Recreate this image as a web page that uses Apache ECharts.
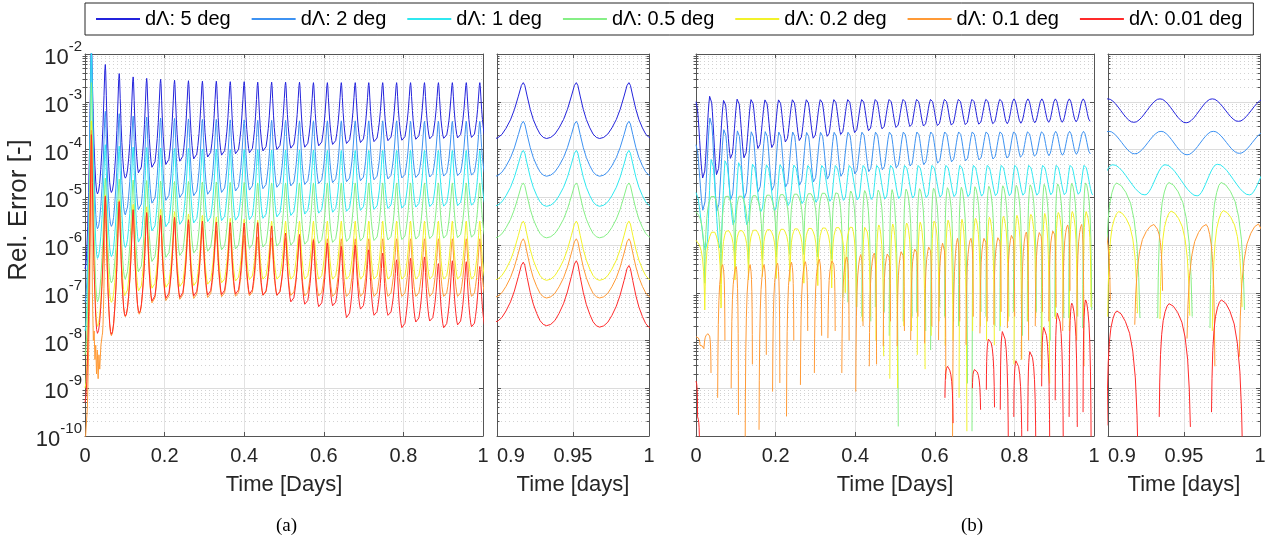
<!DOCTYPE html>
<html>
<head>
<meta charset="UTF-8">
<title>Rel. Error</title>
<script src="https://cdn.jsdelivr.net/npm/echarts@6/dist/echarts.min.js"></script>
</head>
<body style="margin:0;background:#fff;">
<div id="main" style="width:1273px;height:546px;"></div>
<script type="text/javascript">
var names = ['dΛ: 5 deg', 'dΛ: 2 deg', 'dΛ: 1 deg', 'dΛ: 0.5 deg', 'dΛ: 0.2 deg', 'dΛ: 0.1 deg', 'dΛ: 0.01 deg'];
var colors = ['#2323dc', '#3d92f2', '#2fe8f0', '#86ef86', '#f2f22a', '#ff9a36', '#ff2a2a'];

// every level below is log10 of the relative error

// ---- (a) whole day: spike times, spike tops and the trough after each spike
var tPeakA = [0.016,0.051,0.086,0.121,0.155,0.190,0.225,0.260,0.295,0.330,0.365,0.400,0.434,0.469,0.504,0.539,0.574,0.609,0.644,0.679,0.713,0.748,0.783,0.818,0.853,0.888,0.923,0.958,0.992];
var fallA = 0.0153;
var startA = [-6.5, -7.2, -7.8, -8.3, -9.0, -10.2, -9.3];
var peakA_5 = [-1.8,-2.22,-2.41,-2.48,-2.51,-2.53,-2.55,-2.56,-2.57,-2.57,-2.58,-2.58,-2.59,-2.59,-2.59,-2.59,-2.6,-2.6,-2.6,-2.6,-2.6,-2.6,-2.6,-2.6,-2.6,-2.6,-2.6,-2.6,-2.6];
var troughA_5 = [-4.93,-4.9,-4.6,-4.53,-4.41,-4.35,-4.28,-4.23,-4.19,-4.15,-4.12,-4.1,-4.06,-4.03,-4.0,-3.98,-3.95,-3.92,-3.9,-3.88,-3.86,-3.84,-3.83,-3.81,-3.8,-3.79,-3.78,-3.77,-3.77];
var peakA_2 = [-1.9,-3.2,-3.25,-3.3,-3.32,-3.34,-3.35,-3.36,-3.37,-3.37,-3.38,-3.38,-3.39,-3.39,-3.39,-3.4,-3.4,-3.4,-3.4,-3.4,-3.4,-3.4,-3.4,-3.41,-3.41,-3.41,-3.41,-3.41,-3.41];
var troughA_2 = [-5.66,-5.61,-5.37,-5.3,-5.16,-5.1,-5.04,-5.0,-4.97,-4.93,-4.9,-4.88,-4.85,-4.82,-4.79,-4.76,-4.74,-4.72,-4.7,-4.68,-4.66,-4.64,-4.62,-4.61,-4.6,-4.58,-4.57,-4.56,-4.56];
var peakA_1 = [-1.95,-3.9,-3.93,-3.95,-3.96,-3.97,-3.98,-3.98,-3.99,-3.99,-4.0,-4.0,-4.0,-4.01,-4.01,-4.01,-4.01,-4.02,-4.02,-4.02,-4.02,-4.02,-4.02,-4.02,-4.02,-4.02,-4.02,-4.02,-4.02];
var troughA_1 = [-6.28,-6.24,-6.05,-5.98,-5.74,-5.65,-5.6,-5.57,-5.54,-5.52,-5.51,-5.5,-5.47,-5.44,-5.41,-5.38,-5.36,-5.34,-5.32,-5.3,-5.28,-5.26,-5.25,-5.23,-5.22,-5.21,-5.2,-5.19,-5.19];
var peakA_05 = [-2.6,-4.6,-4.62,-4.64,-4.65,-4.66,-4.67,-4.67,-4.68,-4.68,-4.69,-4.69,-4.7,-4.7,-4.7,-4.7,-4.7,-4.7,-4.7,-4.7,-4.7,-4.7,-4.7,-4.7,-4.7,-4.7,-4.7,-4.7,-4.7];
var troughA_05 = [-7.19,-6.79,-6.72,-6.6,-6.38,-6.29,-6.25,-6.2,-6.16,-6.13,-6.11,-6.1,-6.07,-6.05,-6.03,-6.01,-5.99,-5.97,-5.95,-5.94,-5.93,-5.92,-5.91,-5.9,-5.89,-5.88,-5.87,-5.86,-5.86];
var peakA_02 = [-3.4,-4.95,-5.05,-5.15,-5.2,-5.25,-5.3,-5.35,-5.38,-5.41,-5.44,-5.46,-5.48,-5.5,-5.5,-5.5,-5.5,-5.5,-5.5,-5.5,-5.5,-5.5,-5.5,-5.5,-5.5,-5.5,-5.5,-5.5,-5.5];
var troughA_02 = [-7.7,-7.2,-7.1,-7.0,-6.94,-6.92,-6.9,-6.88,-6.85,-6.82,-6.78,-6.75,-6.74,-6.74,-6.74,-6.74,-6.74,-6.74,-6.74,-6.74,-6.74,-6.74,-6.74,-6.74,-6.74,-6.74,-6.74,-6.74,-6.74];
var peakA_01 = [-3.6,-5.0,-5.1,-5.27,-5.35,-5.42,-5.5,-5.57,-5.63,-5.7,-5.75,-5.8,-5.83,-5.85,-5.86,-5.87,-5.87,-5.87,-5.87,-5.87,-5.87,-5.87,-5.87,-5.87,-5.87,-5.87,-5.87,-5.87,-5.87];
var troughA_01 = [-8.4,-7.9,-7.5,-7.45,-7.25,-7.2,-7.17,-7.15,-7.13,-7.11,-7.1,-7.09,-7.08,-7.08,-7.08,-7.09,-7.09,-7.1,-7.1,-7.1,-7.1,-7.1,-7.1,-7.1,-7.1,-7.1,-7.1,-7.1,-7.1];
var peakA_001 = [-3.69,-4.98,-5.09,-5.26,-5.32,-5.38,-5.42,-5.47,-5.5,-5.52,-5.53,-5.54,-5.53,-5.6,-5.75,-5.78,-5.9,-5.96,-6.03,-6.0,-6.1,-6.17,-6.31,-6.28,-6.25,-6.39,-6.33,-6.35,-6.45];
var troughA_001 = [-7.85,-7.87,-7.49,-7.42,-7.21,-7.15,-7.13,-7.1,-7.08,-7.07,-7.06,-7.06,-7.08,-7.08,-7.22,-7.27,-7.32,-7.3,-7.55,-7.37,-7.5,-7.5,-7.76,-7.64,-7.62,-7.76,-7.7,-7.74,-7.76];
// noisy start of the 0.1 deg run
var headA_01 = [[0,-10.2],[0.006,-9.4],[0.011,-7.5],[0.016,-3.6],[0.0185,-7.0],[0.021,-8.0],[0.023,-7.8],[0.025,-8.4],[0.027,-8.1],[0.029,-8.7],[0.031,-8.2],[0.033,-8.8],[0.035,-8.3],[0.037,-8.6],[0.04,-8.1],[0.043,-7.9]];

// ---- (a) last 0.1 day
var zPeakA = [0.9173, 0.9522, 0.9868];
var zRiseA = 0.0196;
var zPeakA_5 = [-2.6,-2.6,-2.6], zTroughA_5 = [-3.78,-3.77,-3.77,-3.77];
var zPeakA_2 = [-3.41,-3.41,-3.41], zTroughA_2 = [-4.57,-4.56,-4.56,-4.56];
var zPeakA_1 = [-4.02,-4.02,-4.02], zTroughA_1 = [-5.19,-5.19,-5.19,-5.19];
var zPeakA_05 = [-4.7,-4.7,-4.7], zTroughA_05 = [-5.86,-5.85,-5.85,-5.85];
var zPeakA_02 = [-5.5,-5.5,-5.5], zTroughA_02 = [-6.74,-6.74,-6.74,-6.74];
var zPeakA_01 = [-5.87,-5.87,-5.87], zTroughA_01 = [-7.1,-7.11,-7.11,-7.1];
var zPeakA_001 = [-6.36,-6.33,-6.43], zTroughA_001 = [-7.62,-7.69,-7.72,-7.75];

// ---- (b) whole day: cycle times (tops of the 5 deg run)
var tPeakB = [0.036,0.071,0.105,0.140,0.175,0.209,0.244,0.279,0.314,0.348,0.383,0.418,0.452,0.487,0.522,0.556,0.591,0.626,0.661,0.695,0.730,0.765,0.799,0.834,0.869,0.903,0.938,0.973];
// smooth runs: [top offset, trough offset] from the cycle time
var offB_5 = [0, 0.0172], offB_2 = [0.0007, 0.0178], offB_1 = [0.0033, 0.0245];
var headB_5 = [[0,-3.0],[0.0185,-4.63]];
var peakB_5 = [-2.85,-2.94,-2.92,-2.93,-2.94,-2.94,-2.94,-2.94,-2.94,-2.94,-2.94,-2.94,-2.94,-2.94,-2.94,-2.94,-2.94,-2.94,-2.94,-2.94,-2.94,-2.94,-2.94,-2.94,-2.94,-2.94,-2.94,-2.94];
var troughB_5 = [-4.56,-4.21,-4.2,-4.0,-3.98,-3.86,-3.83,-3.78,-3.74,-3.7,-3.66,-3.62,-3.58,-3.55,-3.53,-3.52,-3.51,-3.5,-3.49,-3.48,-3.47,-3.46,-3.45,-3.44,-3.43,-3.43,-3.42,-3.41];
var headB_2 = [[0,-3.9],[0.019,-5.3]];
var peakB_2 = [-3.3,-3.55,-3.58,-3.6,-3.6,-3.61,-3.61,-3.62,-3.62,-3.62,-3.62,-3.62,-3.62,-3.62,-3.62,-3.62,-3.62,-3.62,-3.62,-3.62,-3.62,-3.62,-3.62,-3.62,-3.62,-3.62,-3.62,-3.62];
var troughB_2 = [-5.33,-5.08,-5.05,-4.91,-4.88,-4.81,-4.77,-4.7,-4.64,-4.58,-4.53,-4.48,-4.44,-4.4,-4.36,-4.33,-4.3,-4.27,-4.25,-4.23,-4.21,-4.19,-4.17,-4.15,-4.13,-4.12,-4.1,-4.09];
var headB_1 = [[0,-4.9],[0.026,-6.13]];
var peakB_1 = [-4.17,-4.2,-4.25,-4.28,-4.3,-4.3,-4.31,-4.32,-4.32,-4.32,-4.32,-4.32,-4.32,-4.32,-4.32,-4.32,-4.32,-4.32,-4.32,-4.32,-4.32,-4.32,-4.32,-4.32,-4.32,-4.32,-4.32,-4.32];
var troughB_1 = [-6.1,-5.61,-5.6,-5.33,-5.3,-5.19,-5.15,-5.12,-5.1,-5.08,-5.07,-5.06,-5.05,-5.04,-5.03,-5.02,-5.01,-5.0,-5.0,-4.99,-4.98,-4.98,-4.97,-4.97,-4.96,-4.96,-4.95,-4.95];
// runs that cross zero: [arc start, arc top, arc end, trough] offsets from the cycle time
var offB_05 = [-0.0015, 0.0058, 0.0212, 0.027];
var offB_02 = [0, 0.0073, 0.0196, 0.027];
var offB_01 = [-0.0166, -0.004, 0.0017, 0.0099];
var offB_001 = [-0.0005, 0.006, 0.02, 0.027];
var headB_05 = [[0,-5.3],[0.022,-6.8]], joinB_05 = 10;
var topB_05 = [-4.95,-4.95,-4.95,-4.94,-4.93,-4.92,-4.91,-4.9,-4.89,-4.88,-4.87,-4.86,-4.85,-4.84,-4.83,-4.82,-4.81,-4.8,-4.79,-4.78,-4.77,-4.76,-4.75,-4.74,-4.73,-4.72,-4.71,-4.7];
var endB_05 = [-6.7,-6.45,-6.4,-6.3,-6.25,-6.2,-6.2,-6.25,-6.3,-7.1,-7.3,-7.6,-7.4,-9.8,-7.5,-7.8,-7.3,-7.6,-8.9,-7.4,-7.7,-7.5,-7.9,-7.4,-8.0,-7.53,-7.5,-7.36];
var startB_05 = [null,null,null,null,null,null,null,null,null,null,-7.2,-7.5,-7.3,-7.9,-7.6,-7.4,-8.2,-7.5,-7.7,-9.9,-7.5,-7.8,-7.4,-7.6,-8.4,-7.5,-7.53,-7.74];
var headB_02 = [[0,-5.9],[0.022,-7.36]], joinB_02 = 11;
var topB_02 = [-5.7,-5.68,-5.68,-5.67,-5.66,-5.65,-5.64,-5.63,-5.62,-5.61,-5.6,-5.59,-5.58,-5.56,-5.54,-5.52,-5.5,-5.48,-5.46,-5.44,-5.42,-5.4,-5.38,-5.36,-5.34,-5.32,-5.3,-5.3];
var endB_02 = [-7.32,-6.73,-6.73,-6.66,-6.7,-6.76,-6.8,-6.85,-6.9,-7.0,-7.3,-7.5,-8.33,-9.0,-7.8,-8.6,-7.6,-8.0,-9.9,-7.7,-8.1,-7.6,-8.4,-7.5,-8.9,-7.43,-7.48,-7.3];
var startB_02 = [null,null,null,null,null,null,null,null,null,null,null,-7.6,-8.0,-8.8,-7.7,-8.3,-7.9,-8.1,-9.2,-7.8,-8.0,-7.7,-8.5,-7.6,-8.6,-7.55,-7.8,-7.5];
var headB_01 = [[0,-7.92],[0.01,-8.1],[0.02,-8.2]], joinB_01 = 1;
var topB_01 = [-7.85,-6.41,-6.45,-6.41,-6.41,-6.38,-6.36,-6.35,-6.3,-6.3,-6.25,-6.2,-6.17,-6.15,-6.1,-6.05,-6.0,-5.92,-5.86,-5.86,-5.82,-5.81,-5.76,-5.73,-5.7,-5.67,-5.58,-5.57];
var endB_01 = [-8.68,-8.0,-9.56,-8.5,-8.3,-8.89,-8.0,-7.8,-7.9,-7.8,-8.0,-7.7,-8.5,-7.6,-7.8,-7.5,-7.7,-8.8,-7.6,-7.5,-7.6,-7.4,-7.5,-8.0,-7.4,-7.3,-6.96,-8.54];
var startB_01 = [null,-9.2,-9.0,-10.5,-9.87,-9.07,-9.59,-8.93,-8.68,-7.95,-8.68,-9.07,-8.54,-8.12,-8.12,-7.99,-8.06,-7.99,-10.5,-8.09,-7.85,-7.67,-7.74,-8.4,-7.7,-7.6,-7.8,-8.0];
var headB_001 = [[0,-8.85],[0.004,-9.6],[0.009,-10.4]], joinB_001 = 0;
var topB_001 = [null,null,null,null,null,null,null,null,null,null,null,null,null,null,null,null,null,-8.54,null,-8.6,-7.95,-7.78,-8.4,-8.2,-7.7,-7.39,-7.22,-7.15];
var endB_001 = [null,null,null,null,null,null,null,null,null,null,null,null,null,null,null,null,null,-9.73,null,-9.45,-9.4,-10.5,-10.5,-10.5,-10.5,-10.5,-9.81,-10.5];
var startB_001 = [null,null,null,null,null,null,null,null,null,null,null,null,null,null,null,null,null,-9.2,null,-9.0,-9.03,-9.45,-9.6,-9.9,-8.96,-9.25,-9.6,-9.5];

// ---- (b) last 0.1 day
var zPeakB = [0.8998, 0.9342, 0.9686, 1.003];
var zHeadB_5 = [[0.8826,-3.43]], zPeakB_5 = [-2.94,-2.94,-2.94,-2.94], zTroughB_5 = [-3.43,-3.44,-3.41,-3.42];
var zHeadB_2 = [[0.8832,-4.09]], zPeakB_2 = [-3.62,-3.62,-3.62,-3.62], zTroughB_2 = [-4.09,-4.11,-4.08,-4.09];
var zHeadB_1 = [[0.8899,-4.95]], zPeakB_1 = [-4.32,-4.32,-4.31,-4.32], zTroughB_1 = [-4.95,-4.97,-4.95,-4.96];
var zTopB_05 = [-4.7,-4.69,-4.69,-4.7], zStartB_05 = [-7.5,-7.53,-7.74,-7.6], zEndB_05 = [-7.53,-7.5,-7.36,-7.5];
var zTopB_02 = [-5.3,-5.29,-5.28,-5.3], zStartB_02 = [-7.5,-7.55,-7.8,-7.5], zEndB_02 = [-7.43,-7.48,-7.3,-7.4];
var zTopB_01 = [-5.6,-5.57,-5.57,-5.56], zStartB_01 = [-7.6,-7.67,-7.96,-8.34], zEndB_01 = [-7.15,-6.96,-8.54,-7.5];
var zTopB_001 = [-7.38,-7.23,-7.15,null], zStartB_001 = [-9.78,-9.6,-9.5,null], zEndB_001 = [-10.5,-9.81,-10.5,null];

// cycle profiles: share of time vs share of level change
var spikeT = [0, 0.065, 0.165, 0.3, 0.43, 0.58, 0.72, 0.86, 1];
var spikeL = [0, 0.05, 0.24, 0.48, 0.66, 0.81, 0.92, 0.98, 1];
var waveT = [0, 0.1, 0.2, 0.3, 0.4, 0.5, 0.6, 0.7, 0.8, 0.9, 1];
var waveL = [0, 0.02, 0.1, 0.21, 0.35, 0.5, 0.65, 0.79, 0.9, 0.98, 1];
var arcT = [0, 0.05, 0.13, 0.25, 0.4, 0.6, 0.8, 1];
var arcL = [0, 0.3, 0.55, 0.73, 0.85, 0.93, 0.98, 1];

var profiles = {
    w: [waveT, waveL, false],
    p: [spikeT, spikeL, false],   // spike top down to trough
    P: [spikeT, spikeL, true],    // trough up to spike top
    a: [arcT, arcL, false],       // zero crossing up to arc top
    A: [arcT, arcL, true]         // arc top down to zero crossing
};

function toPoints(knots) {
    var out = [], prev = null;
    knots.forEach(function (k) {
        var t = k[0], v = k[1], c = k[2];
        if (prev && c === 'g') out.push([(prev[0] + t) / 2, null]);
        var pr = prev && c !== 'g' ? profiles[c] : null;
        if (pr) {
            var T = pr[0], L = pr[1], n = T.length;
            for (var i = 1; i < n; i++) {
                var s = pr[2] ? 1 - T[n - 1 - i] : T[i];
                var f = pr[2] ? 1 - L[n - 1 - i] : L[i];
                out.push([prev[0] + (t - prev[0]) * s, Math.pow(10, prev[1] + (v - prev[1]) * f)]);
            }
        } else {
            out.push([t, Math.pow(10, v)]);
        }
        prev = k;
    });
    return out;
}

function spikeKnots(head, tp, fall, peaks, troughs, from) {
    var kn = head.map(function (h) { return [h[0], h[1], 'l']; });
    for (var k = from; k < tp.length; k++) {
        kn.push([tp[k], peaks[k], 'P']);
        kn.push([tp[k] + fall, troughs[k], 'p']);
    }
    return kn;
}
function waveKnots(head, tp, offs, peaks, troughs) {
    var kn = head.map(function (h) { return [h[0], h[1], 'w']; });
    for (var k = 0; k < tp.length; k++) {
        kn.push([tp[k] + offs[0], peaks[k], 'w']);
        kn.push([tp[k] + offs[1], troughs[k], 'w']);
    }
    return kn;
}
function arcKnots(head, tp, offs, tops, starts, ends, joinFrom) {
    var kn = head.map(function (h) { return [h[0], h[1], 'A']; });
    for (var k = 0; k < tp.length; k++) {
        if (tops[k] === null) continue;
        if (k >= joinFrom) kn.push([tp[k] + offs[0], starts[k], 'g']);
        kn.push([tp[k] + offs[1], tops[k], 'a']);
        if (k + 1 < joinFrom) kn.push([tp[k] + offs[3], ends[k], 'A']);
        else kn.push([tp[k] + offs[2], ends[k], 'A']);
    }
    return kn;
}

var series = [];
function addLine(grid, i, knots) {
    series.push({
        name: names[i], type: 'line', xAxisIndex: grid * 2, yAxisIndex: grid * 2,
        data: toPoints(knots), symbol: 'none', showSymbol: false, clip: true, z: 3 + i,
        lineStyle: { width: 1, color: colors[i] }, itemStyle: { color: colors[i] }
    });
}

// (a) whole day
var peaksA = [peakA_5, peakA_2, peakA_1, peakA_05, peakA_02, peakA_01, peakA_001];
var troughsA = [troughA_5, troughA_2, troughA_1, troughA_05, troughA_02, troughA_01, troughA_001];
for (var i = 0; i < 7; i++) {
    if (i === 5) addLine(0, i, spikeKnots(headA_01, tPeakA, fallA, peaksA[i], troughsA[i], 1));
    else addLine(0, i, spikeKnots([[0, startA[i]]], tPeakA, fallA, peaksA[i], troughsA[i], 0));
}
// (a) zoom
var zPeaksA = [zPeakA_5, zPeakA_2, zPeakA_1, zPeakA_05, zPeakA_02, zPeakA_01, zPeakA_001];
var zTroughsA = [zTroughA_5, zTroughA_2, zTroughA_1, zTroughA_05, zTroughA_02, zTroughA_01, zTroughA_001];
for (var i = 0; i < 7; i++) {
    addLine(1, i, spikeKnots([[zPeakA[0] - zRiseA, zTroughsA[i][0]]], zPeakA, fallA, zPeaksA[i], zTroughsA[i].slice(1), 0));
}
// (b) whole day
addLine(2, 0, waveKnots(headB_5, tPeakB, offB_5, peakB_5, troughB_5));
addLine(2, 1, waveKnots(headB_2, tPeakB, offB_2, peakB_2, troughB_2));
addLine(2, 2, waveKnots(headB_1, tPeakB, offB_1, peakB_1, troughB_1));
addLine(2, 3, arcKnots(headB_05, tPeakB, offB_05, topB_05, startB_05, endB_05, joinB_05));
addLine(2, 4, arcKnots(headB_02, tPeakB, offB_02, topB_02, startB_02, endB_02, joinB_02));
addLine(2, 5, arcKnots(headB_01, tPeakB, offB_01, topB_01, startB_01, endB_01, joinB_01));
addLine(2, 6, arcKnots(headB_001, tPeakB, offB_001, topB_001, startB_001, endB_001, joinB_001));
// (b) zoom
addLine(3, 0, waveKnots(zHeadB_5, zPeakB, offB_5, zPeakB_5, zTroughB_5));
addLine(3, 1, waveKnots(zHeadB_2, zPeakB, offB_2, zPeakB_2, zTroughB_2));
addLine(3, 2, waveKnots(zHeadB_1, zPeakB, offB_1, zPeakB_1, zTroughB_1));
addLine(3, 3, arcKnots([], zPeakB, offB_05, zTopB_05, zStartB_05, zEndB_05, 0));
addLine(3, 4, arcKnots([], zPeakB, offB_02, zTopB_02, zStartB_02, zEndB_02, 0));
addLine(3, 5, arcKnots([], zPeakB, offB_01, zTopB_01, zStartB_01, zEndB_01, 0));
addLine(3, 6, arcKnots([], zPeakB, offB_001, zTopB_001, zStartB_001, zEndB_001, 0));

// minor ticks / dotted minor grid at 2..9 x 10^e
var minorVals = [];
for (var e = -10; e < -2; e++) {
    for (var m = 2; m < 10; m++) minorVals.push(m * Math.pow(10, e));
}

// axes
var gridLeft = [85, 497, 696, 1108];
var gridWidth = [398, 152, 398, 152];
var frame = '#555555';
var grids = [], xAxes = [], yAxes = [], yMinor = [];
for (var g = 0; g < 4; g++) {
    var full = g % 2 === 0;
    grids.push({ left: gridLeft[g], top: 54, width: gridWidth[g], height: 382 });
    xAxes.push({
        gridIndex: g, type: 'value', min: full ? 0 : 0.9, max: 1, interval: full ? 0.2 : 0.05,
        name: full ? 'Time [Days]' : 'Time [days]', nameLocation: 'middle', nameGap: 38,
        nameTextStyle: { fontSize: 22, color: '#262626' },
        axisLine: { onZero: false, lineStyle: { color: frame } },
        axisTick: { inside: true, length: 4, lineStyle: { color: frame } },
        axisLabel: { fontSize: 20, color: '#262626', margin: 10, alignMinLabel: full ? 'center' : 'left' },
        splitLine: { show: true, lineStyle: { color: '#e2e2e2' } }
    });
    xAxes.push({
        gridIndex: g, type: 'value', position: 'top', min: full ? 0 : 0.9, max: 1, interval: full ? 0.2 : 0.05,
        axisLine: { onZero: false, lineStyle: { color: frame } },
        axisTick: { inside: true, length: 4, lineStyle: { color: frame } },
        axisLabel: { show: false }, splitLine: { show: false }
    });
    yAxes.push({
        gridIndex: g, type: 'log', logBase: 10, min: 1e-10, max: 1e-2, splitNumber: 8,
        axisLine: { onZero: false, lineStyle: { color: frame } },
        axisTick: { inside: true, length: 4, lineStyle: { color: frame } },
        axisLabel: {
            show: g === 0, margin: 3,
            formatter: function (v) { return '{b|10}{e|' + Math.round(Math.log10(v)) + '}'; },
            rich: {
                b: { fontSize: 22, color: '#262626', padding: [8, 0, 0, 0] },
                e: { fontSize: 15, color: '#262626', padding: [0, 0, 14, 0] }
            }
        },
        splitLine: { show: true, lineStyle: { color: '#dcdcdc' } }
    });
    yAxes.push({
        gridIndex: g, type: 'log', logBase: 10, min: 1e-10, max: 1e-2, splitNumber: 8, position: 'right',
        axisLine: { onZero: false, lineStyle: { color: frame } },
        axisTick: { inside: true, length: 4, lineStyle: { color: frame } },
        axisLabel: { show: false }, splitLine: { show: false }
    });
    ['left', 'right'].forEach(function (side) {
        yMinor.push({
            gridIndex: g, type: 'log', logBase: 10, min: 1e-10, max: 1e-2, position: side,
            axisLine: { show: false },
            axisTick: { inside: true, length: 2.5, customValues: minorVals, lineStyle: { color: frame } },
            axisLabel: { show: false },
            splitLine: { show: side === 'left', lineStyle: { type: [1, 3], color: '#d2d2d2', width: 1 } }
        });
    });
}

var myChart = echarts.init(document.getElementById('main'));
var option = {
    animation: false,
    backgroundColor: '#ffffff',
    textStyle: { fontFamily: 'Liberation Sans' },
    legend: {
        data: names, left: 85, top: 3, padding: [6, 11], itemGap: 21, itemWidth: 44, itemHeight: 2,
        icon: 'rect', borderColor: '#262626', borderWidth: 1,
        textStyle: { fontSize: 20, color: '#000000' }
    },
    grid: grids,
    xAxis: xAxes,
    yAxis: yAxes.concat(yMinor),
    graphic: [
        { type: 'text', x: 19, y: 210, rotation: Math.PI / 2,
          style: { text: 'Rel. Error [-]', fontSize: 26, fill: '#262626', align: 'center', verticalAlign: 'middle', fontFamily: 'Liberation Sans' } },
        { type: 'text', left: 276, top: 517, style: { text: '(a)', fontSize: 19, fontFamily: 'Liberation Serif', fill: '#000' } },
        { type: 'text', left: 961, top: 517, style: { text: '(b)', fontSize: 19, fontFamily: 'Liberation Serif', fill: '#000' } }
    ],
    series: series
};
myChart.setOption(option);
</script>
</body>
</html>
